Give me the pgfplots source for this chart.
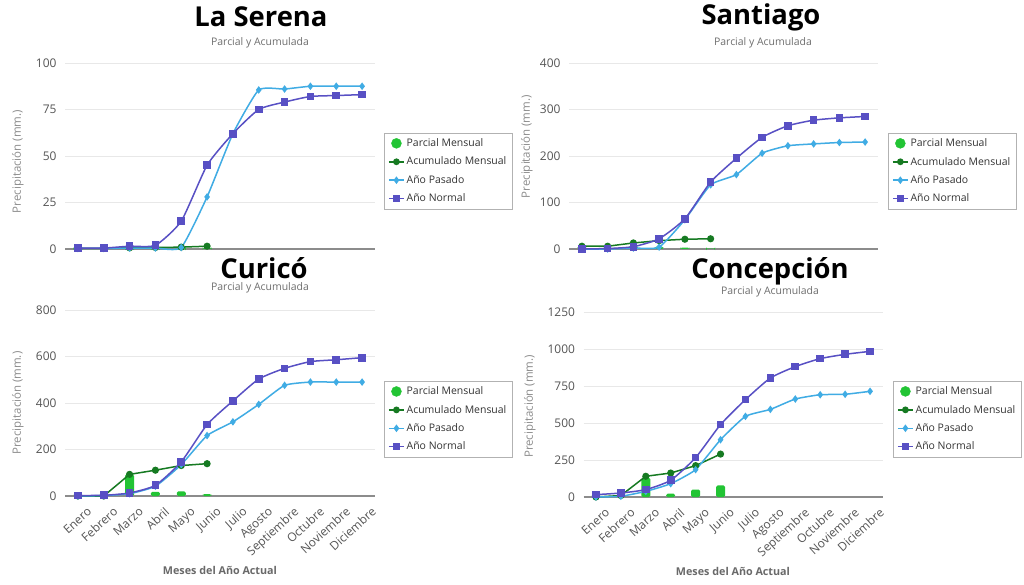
\documentclass[border=0pt]{standalone}
\usepackage{fontspec}
\setmainfont{Open Sans}
\usepackage{pgfplots}
\usepackage{pgfplotstable}
\pgfplotsset{compat=1.18}

\definecolor{normalc}{RGB}{88,80,196}
\definecolor{pasadoc}{RGB}{64,172,228}
\definecolor{acumc}{RGB}{22,122,34}
\definecolor{parcialc}{RGB}{34,196,52}
\definecolor{tickc}{RGB}{85,85,85}
\definecolor{ylabc}{RGB}{140,140,140}
\definecolor{subc}{RGB}{110,110,110}
\definecolor{xlabc}{RGB}{105,105,105}

% m: month index (0 = Enero); nan where the current year has no data yet
\pgfplotstableread{
m normal pasado acum parcial
0  0.5   0.3  0.4  0.4
1  0.5   0.3  0.4  0
2  1.5   0.5  0.6  0.2
3  2     0.5  0.8  0.2
4  15    0.8  1.0  0.2
5  45    28   1.5  0.5
6  62    62   nan  nan
7  75    85.5 nan  nan
8  79    86   nan  nan
9  82    87.5 nan  nan
10 82.5  87.5 nan  nan
11 83    87.5 nan  nan
}\serena

\pgfplotstableread{
m normal pasado acum parcial
0  0    0    6   6
1  1    0    6   0
2  5    2    13  7
3  22   4    18  5
4  65   63   21  3
5  144  138  22  1
6  195  160  nan nan
7  240  206  nan nan
8  265  222  nan nan
9  277  226  nan nan
10 282  229  nan nan
11 285  230  nan nan
}\santiago

\pgfplotstableread{
m normal pasado acum parcial
0  2    0    0    0
1  3    2    0    0
2  13   10   93   93
3  46   42   111  18
4  147  135  131  20
5  307  260  139  8
6  409  319  nan  nan
7  503  394  nan  nan
8  549  476  nan  nan
9  578  490  nan  nan
10 586  490  nan  nan
11 595  490  nan  nan
}\curico

\pgfplotstableread{
m normal pasado acum parcial
0  16   0    0    0
1  27   5    10   10
2  50   38   140  130
3  113  90   162  22
4  266  185  212  50
5  489  387  290  78
6  658  545  nan  nan
7  804  592  nan  nan
8  881  662  nan  nan
9  935  691  nan  nan
10 964  694  nan  nan
11 984  714  nan  nan
}\concepcion

\pgfplotsset{
  panel/.style={
    scale only axis, clip=false,
    xmin=-0.5, xmax=11.5, ymin=0,
    axis line style={draw=none},
    major tick length=0pt,
    ymajorgrids, grid style={draw=black!9, line width=0.7bp},
    xtick={0,...,11}, xticklabels={},
    yticklabel style={font=\fontsize{12}{14}\selectfont, text=tickc, xshift=-5bp},
    /pgf/number format/assume math mode=true,
    /pgf/number format/1000 sep={},
    ylabel={Precipitación (mm.)},
    ylabel style={font=\fontsize{11.5}{13}\selectfont, text=ylabc, anchor=center},
    legend style={anchor=north west, draw=black!30, fill=white,
      font=\fontsize{10.5}{12}\selectfont, text=black!80,
      row sep=5bp, inner xsep=4bp, inner ysep=3.5bp},
    legend cell align=left,
    legend image code/.code={
      \draw[mark repeat=2, mark phase=2, #1]
        plot coordinates {(0bp,0bp) (7.5bp,0bp) (15bp,0bp)};},
  },
  months/.style={
    xticklabels={Enero,Febrero,Marzo,Abril,Mayo,Junio,Julio,Agosto,Septiembre,Octubre,Noviembre,Diciembre},
    xticklabel style={rotate=42, anchor=north east, font=\fontsize{12}{14}\selectfont,
      text=tickc, xshift=3bp, yshift=-10bp},
    xlabel={Meses del Año Actual},
    xlabel style={font=\bfseries\fontsize{10.8}{13}\selectfont, text=xlabc,
      at={(axis description cs:0.5,-0.40)}, anchor=center},
  },
  parcial/.style={ybar, bar width=9bp, fill=parcialc, draw=none, rounded corners=1.5bp, forget plot},
  acum/.style={acumc, line width=1.5bp, mark=*, mark size=2.8bp, forget plot},
  pasado/.style={pasadoc, line width=1.5bp, smooth, tension=0.3, mark=diamond*, mark size=2.6bp, forget plot},
  normal/.style={normalc, line width=1.5bp, smooth, tension=0.35, mark=square*, mark size=3.1bp, forget plot},
}

\newcommand\legendentries{%
  \addlegendimage{only marks, mark=*, mark size=5bp, parcialc}
  \addlegendentry{Parcial Mensual}
  \addlegendimage{acumc, line width=1.5bp, mark=*, mark size=2.6bp}
  \addlegendentry{Acumulado Mensual}
  \addlegendimage{pasadoc, line width=1.5bp, mark=diamond*, mark size=2.6bp}
  \addlegendentry{Año Pasado}
  \addlegendimage{normalc, line width=1.5bp, mark=square*, mark size=3bp}
  \addlegendentry{Año Normal}%
}

\newcommand\cityplots[1]{%
  \draw[black!45, line width=1.2bp] (axis cs:-0.5,0) -- (axis cs:11.5,0);
  \addplot[parcial] table[x=m, y=parcial] {#1};
  \addplot[acum] table[x=m, y=acum] {#1};
  \addplot[pasado] table[x=m, y=pasado] {#1};
  \addplot[normal] table[x=m, y=normal] {#1};
  \legendentries
}

\begin{document}
\begin{tikzpicture}[x=1bp, y=1bp]
\path[use as bounding box, fill=white] (0bp,0bp) rectangle (1024bp,585bp);

% La Serena
\begin{axis}[panel, at={(65bp,336bp)}, anchor=south west, width=310bp, height=186bp,
  ymax=100, ytick={0,25,50,75,100},
  ylabel style={at={(axis description cs:-0.152,0.47)}},
  legend style={at={(axis description cs:1.029,0.624)}}]
\cityplots{\serena}
\end{axis}
\node[font=\bfseries\fontsize{27.5}{32}\selectfont] at (261bp,568bp) {La Serena};
\node[font=\fontsize{10.5}{12}\selectfont, text=subc] at (260bp,542bp) {Parcial y Acumulada};

% Santiago
\begin{axis}[panel, at={(569bp,336bp)}, anchor=south west, width=309bp, height=186bp,
  ymax=400, ytick={0,100,200,300,400},
  ylabel style={at={(axis description cs:-0.136,0.55)}},
  legend style={at={(axis description cs:1.032,0.624)}}]
\cityplots{\santiago}
\end{axis}
\node[font=\bfseries\fontsize{27.5}{32}\selectfont] at (761bp,568bp) {Santiago};
\node[font=\fontsize{10.5}{12}\selectfont, text=subc] at (763bp,542bp) {Parcial y Acumulada};

% Curicó
\begin{axis}[panel, months, at={(65bp,89bp)}, anchor=south west, width=310bp, height=186bp,
  ymax=800, ytick={0,200,400,600,800},
  ylabel style={at={(axis description cs:-0.152,0.5)}},
  legend style={at={(axis description cs:1.029,0.618)}}]
\cityplots{\curico}
\end{axis}
\node[font=\bfseries\fontsize{27.5}{32}\selectfont] at (264bp,317bp) {Curicó};
\node[font=\fontsize{10.5}{12}\selectfont, text=subc] at (260bp,297bp) {Parcial y Acumulada};

% Concepción
\begin{axis}[panel, months, at={(583.5bp,88bp)}, anchor=south west, width=299bp, height=185bp,
  ymax=1250, ytick={0,250,500,750,1000,1250},
  ylabel style={at={(axis description cs:-0.179,0.49)}},
  legend style={at={(axis description cs:1.035,0.627)}}]
\cityplots{\concepcion}
\end{axis}
\node[font=\bfseries\fontsize{27.5}{32}\selectfont] at (770bp,314bp) {Concepción};
\node[font=\fontsize{10.5}{12}\selectfont, text=subc] at (770bp,293bp) {Parcial y Acumulada};
\end{tikzpicture}
\end{document}
